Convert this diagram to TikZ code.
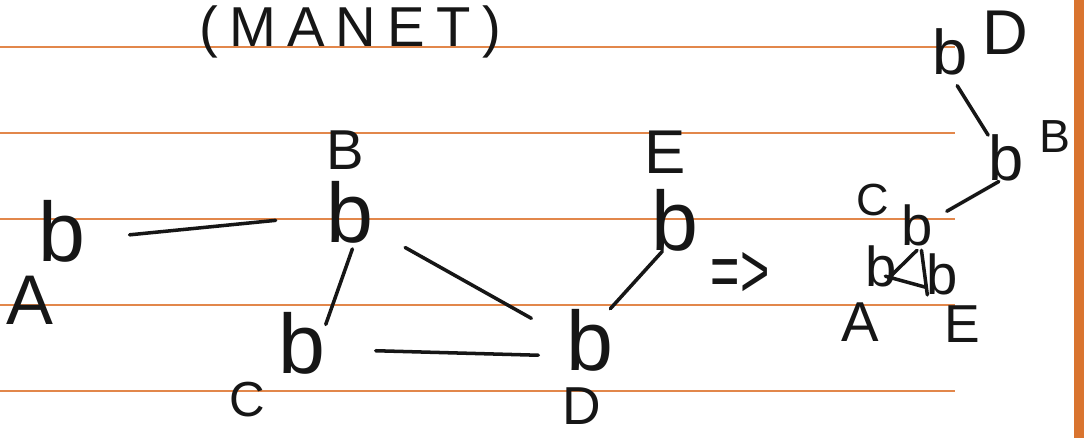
\documentclass[tikz,border=0pt]{standalone}
\usepackage{fontspec}
\setmainfont{Liberation Sans}
\newfontfamily\titlefont[LetterSpace=20]{Liberation Sans}
\usepackage{xcolor}
\usepackage{tikz}
\definecolor{ink}{HTML}{161616}
\definecolor{rule}{HTML}{E2874B}
\definecolor{margin}{HTML}{D9742F}
\newcommand\penSize[1]{\fontsize{#1}{#1}\selectfont}
\tikzset{
  lab/.style={text=ink, inner sep=0pt},
  bNode/.style={text=ink, inner sep=0pt, font=\penSize{60pt}, minimum width=1cm, minimum height=1.5cm},
  bSmall/.style={text=ink, inner sep=0pt, font=\penSize{42pt}, minimum width=0.75cm, minimum height=1.05cm},
  linkLine/.style={draw=ink, line width=2.5pt, line cap=round},
  ruleLine/.style={draw=rule, line width=1.6pt}
}

\begin{document}
\begin{tikzpicture}[x=0.025cm, y=-0.025cm]
\useasboundingbox (0,0) rectangle (1084,438);
\fill[white] (0,0) rectangle (1084,438);
% ruled paper
\foreach \yy in {47,133,219,305,391}
  \draw[ruleLine] (0,\yy) -- (955,\yy);
\fill[margin] (1074,0) rectangle (1084,438);

% title
\node[lab, anchor=base, font=\titlefont\penSize{40pt}] (title) at (350,47) {(MANET)};

% network before
\node[bNode] (nA) at (62,231) {b};
\node[bNode] (nB) at (350,212) {b};
\node[bNode] (nC) at (302,343) {b};
\node[bNode] (nD) at (590,340) {b};
\node[bNode] (nE) at (675,220) {b};
\node[lab, font=\penSize{50pt}] (lA) at (30,300) {A};
\node[lab, font=\penSize{40pt}] (lB) at (345,150) {B};
\node[lab, font=\penSize{35pt}] (lC) at (247,400) {C};
\node[lab, font=\penSize{38pt}] (lD) at (582,406) {D};
\node[lab, font=\penSize{44pt}] (lE) at (665,152) {E};
\draw[linkLine, shorten <=1.1cm, shorten >=1.27cm] (nA.-19) -- (nB.188);
\draw[linkLine, shorten <=0.15cm] (nB.-82) -- (nC.38);
\draw[linkLine, shorten <=0.9cm, shorten >=1cm] (nB.-37) -- (nD.175);
\draw[linkLine, shorten <=1.25cm, shorten >=0.7cm] (nC.-15) -- (nD.214);
\draw[linkLine] (nD.57) -- (nE.248);

% arrow
\node[lab, font=\penSize{55pt}, xscale=0.65] (to) at (740,275) {=>};

% network after
\node[bSmall, font=\penSize{45pt}] (rD) at (950,52) {b};
\node[bSmall, font=\penSize{45pt}] (rB) at (1006,158) {b};
\node[bSmall, font=\penSize{40pt}, minimum height=1.25cm] (rC) at (917,225) {b};
\node[bSmall, font=\penSize{40pt}] (rA) at (881,266) {b};
\node[bSmall, font=\penSize{40pt}, minimum height=0.95cm] (rE) at (942,274) {b};
\node[lab, font=\penSize{45pt}] (mD) at (1005,33) {D};
\node[lab, font=\penSize{33pt}] (mB) at (1055,137) {B};
\node[lab, font=\penSize{32pt}] (mC) at (873,200) {C};
\node[lab, font=\penSize{40pt}] (mA) at (860,322) {A};
\node[lab, font=\penSize{38pt}] (mE) at (962,324) {E};
\draw[linkLine, shorten <=0.3cm] (rD.-88) -- (rB.128);
\draw[linkLine, shorten >=0.4cm] (rB.253) -- (rC.20);
\draw[linkLine, shorten >=-0.3cm] (rC.south) -- (rA.-14);
\draw[linkLine] (rC.-80) -- (rE.235);
\draw[linkLine, shorten <=-0.3cm] (rA.-40) -- (rE.220);
\end{tikzpicture}
\end{document}
